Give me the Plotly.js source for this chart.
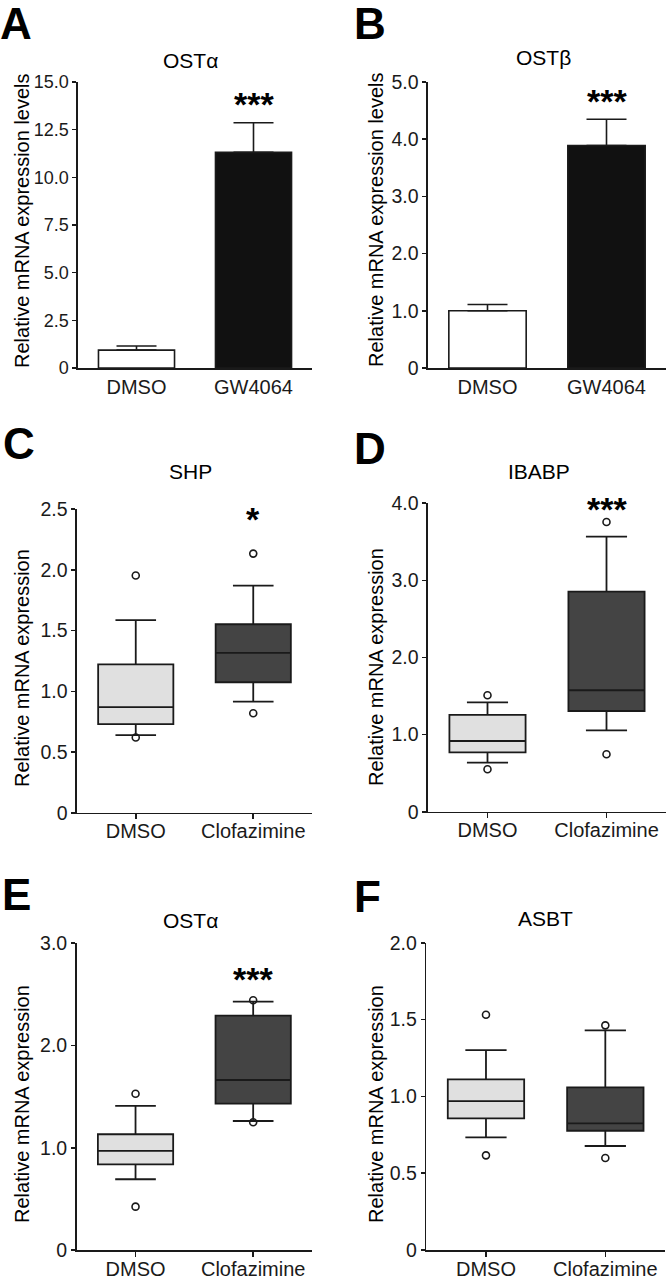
<!DOCTYPE html>
<html>
<head>
<meta charset="utf-8">
<script src="https://cdn.plot.ly/plotly-3.0.1.min.js"></script>
<style>html,body{margin:0;padding:0;background:#fff}#chart{width:666px;height:1283px}</style>
</head>
<body>
<div id="chart"></div>
<script>
// ---------- DATA ----------
const barCats = ['DMSO', 'GW4064'];
const boxCats = ['DMSO', 'Clofazimine'];

// Panel A: OSTα (bars, mean + SEM)
const ostaMean = [0.94, 11.31];
const ostaErr  = [0.21, 1.55];
const ostaTicks = [0, 2.5, 5, 7.5, 10, 12.5, 15];
const ostaTickText = ['0', '2.5', '5.0', '7.5', '10.0', '12.5', '15.0'];

// Panel B: OSTβ
const ostbMean = [1.00, 3.89];
const ostbErr  = [0.11, 0.46];
const ostbTicks = [0, 1, 2, 3, 4, 5];
const ostbTickText = ['0', '1.0', '2.0', '3.0', '4.0', '5.0'];

// Panel C: SHP (box stats per group: DMSO, Clofazimine)
const shpQ1  = [0.73, 1.075];
const shpMed = [0.87, 1.317];
const shpQ3  = [1.223, 1.553];
const shpLo  = [0.64, 0.915];
const shpHi  = [1.586, 1.871];
const shpOutDMSO = [1.954, 0.62];
const shpOutClof = [2.135, 0.82];
const shpTicks = [0, 0.5, 1, 1.5, 2, 2.5];
const shpTickText = ['0', '0.5', '1.0', '1.5', '2.0', '2.5'];

// Panel D: IBABP
const ibabpQ1  = [0.77, 1.306];
const ibabpMed = [0.917, 1.575];
const ibabpQ3  = [1.255, 2.854];
const ibabpLo  = [0.636, 1.056];
const ibabpHi  = [1.419, 3.568];
const ibabpOutDMSO = [1.51, 0.55];
const ibabpOutClof = [3.758, 0.745];
const ibabpTicks = [0, 1, 2, 3, 4];
const ibabpTickText = ['0', '1.0', '2.0', '3.0', '4.0'];

// Panel E: OSTα (Clofazimine)
const osta2Q1  = [0.838, 1.432];
const osta2Med = [0.969, 1.663];
const osta2Q3  = [1.132, 2.293];
const osta2Lo  = [0.692, 1.262];
const osta2Hi  = [1.409, 2.43];
const osta2OutDMSO = [1.529, 0.424];
const osta2OutClof = [2.443, 1.249];
const osta2Ticks = [0, 1, 2, 3];
const osta2TickText = ['0', '1.0', '2.0', '3.0'];

// Panel F: ASBT
const asbtQ1  = [0.857, 0.776];
const asbtMed = [0.969, 0.824];
const asbtQ3  = [1.111, 1.059];
const asbtLo  = [0.733, 0.677];
const asbtHi  = [1.301, 1.43];
const asbtOutDMSO = [1.531, 0.616];
const asbtOutClof = [1.462, 0.599];
const asbtTicks = [0, 0.5, 1, 1.5, 2];
const asbtTickText = ['0', '0.5', '1.0', '1.5', '2.0'];

// ---------- STYLE / LAYOUT ----------
const W = 666, H = 1283;
const FONT = 'Liberation Sans, Arial, Helvetica, sans-serif';
const INK = '#1a1a1a';
const px = v => v / W;
const py = v => 1 - v / H;

const traces = [];
const layout = {
  width: W, height: H,
  margin: {l: 0, r: 0, t: 0, b: 0},
  paper_bgcolor: '#fff', plot_bgcolor: 'rgba(0,0,0,0)',
  showlegend: false,
  font: {family: FONT, color: INK},
  annotations: []
};

function axes(n, xd, yd, range, tv, tt, xticks, tickSize) {
  const xs = n === 1 ? '' : String(n);
  layout['xaxis' + xs] = {
    domain: [px(xd[0]), px(xd[1])], anchor: 'y' + xs,
    type: 'category', range: [-0.5, 1.5],
    showline: true, linecolor: INK, linewidth: 1.6,
    showgrid: false, zeroline: false,
    ticks: xticks ? 'outside' : '', ticklen: 5, tickwidth: 1.6, tickcolor: INK,
    ticklabelstandoff: xticks ? -5 : 0,
    tickfont: {family: FONT, size: 20, color: INK}, fixedrange: true
  };
  layout['yaxis' + xs] = {
    domain: [py(yd[1]), py(yd[0])], anchor: 'x' + xs,
    range: range, showline: true, linecolor: INK, linewidth: 1.6,
    showgrid: false, zeroline: false,
    ticks: 'outside', ticklen: 4, tickwidth: 1.6, tickcolor: INK,
    tickvals: tv, ticktext: tt,
    tickfont: {family: FONT, size: tickSize, color: INK}, fixedrange: true
  };
}

function bars(n, cats, mean, err) {
  const xs = n === 1 ? '' : String(n);
  traces.push({
    type: 'bar', x: cats, y: mean, xaxis: 'x' + xs, yaxis: 'y' + xs,
    width: 0.65,
    marker: {color: ['#ffffff', '#111111'], line: {color: INK, width: 1.6}},
    error_y: {type: 'data', symmetric: false, array: err, arrayminus: [0, 0],
              color: INK, thickness: 1.6, width: 20},
    hoverinfo: 'skip'
  });
}

function boxes(n, q1, med, q3, lo, hi, outD, outC) {
  const xs = n === 1 ? '' : String(n);
  const fills = ['#e0e0e0', '#444444'];
  for (let i = 0; i < 2; i++) {
    traces.push({
      type: 'box', x: [boxCats[i]], q1: [q1[i]], median: [med[i]], q3: [q3[i]],
      lowerfence: [lo[i]], upperfence: [hi[i]],
      xaxis: 'x' + xs, yaxis: 'y' + xs,
      width: 0.64, whiskerwidth: 0.54,
      fillcolor: fills[i], line: {color: INK, width: 1.8},
      boxpoints: false, hoverinfo: 'skip'
    });
  }
  const outs = [outD, outC];
  for (let i = 0; i < 2; i++) {
    traces.push({
      type: 'scatter', mode: 'markers',
      x: outs[i].map(() => boxCats[i]), y: outs[i],
      xaxis: 'x' + xs, yaxis: 'y' + xs,
      marker: {symbol: 'circle-open', size: 7, color: INK, line: {width: 1.6, color: INK}},
      hoverinfo: 'skip', cliponaxis: false
    });
  }
}

function ann(text, x, y, size, opts) {
  layout.annotations.push(Object.assign({
    text: text, x: px(x), y: py(y), xref: 'paper', yref: 'paper',
    xanchor: 'center', yanchor: 'middle', showarrow: false,
    font: {family: FONT, size: size, color: '#000'}
  }, opts || {}));
}

function stars(n, text, cat, yval) {
  const xs = n === 1 ? '' : String(n);
  layout.annotations.push({
    text: '<b>' + text + '</b>', x: cat, y: yval, xref: 'x' + xs, yref: 'y' + xs,
    xanchor: 'center', yanchor: 'middle', showarrow: false, yshift: -4,
    font: {family: FONT, size: 34, color: '#000'}
  });
}

// Panel A
axes(1, [78, 312], [82, 368], [0, 15], ostaTicks, ostaTickText, false, 18);
bars(1, barCats, ostaMean, ostaErr);
stars(1, '***', 'GW4064', 14.05);
// Panel B
axes(2, [428, 666], [82, 368], [0, 5], ostbTicks, ostbTickText, false, 19.5);
bars(2, barCats, ostbMean, ostbErr);
stars(2, '***', 'GW4064', 4.74);
// Panel C
axes(3, [77, 312], [509.3, 812.7], [0, 2.5], shpTicks, shpTickText, true, 19.5);
boxes(3, shpQ1, shpMed, shpQ3, shpLo, shpHi, shpOutDMSO, shpOutClof);
stars(3, '*', 'Clofazimine', 2.45);
// Panel D
axes(4, [428, 666], [503.3, 811.7], [0, 4], ibabpTicks, ibabpTickText, true, 19.5);
boxes(4, ibabpQ1, ibabpMed, ibabpQ3, ibabpLo, ibabpHi, ibabpOutDMSO, ibabpOutClof);
stars(4, '***', 'Clofazimine', 3.98);
// Panel E
axes(5, [76.7, 312], [943.3, 1250], [0, 3], osta2Ticks, osta2TickText, true, 19.5);
boxes(5, osta2Q1, osta2Med, osta2Q3, osta2Lo, osta2Hi, osta2OutDMSO, osta2OutClof);
stars(5, '***', 'Clofazimine', 2.69);
// Panel F
axes(6, [426.3, 665], [942.7, 1250], [0, 2], asbtTicks, asbtTickText, true, 19.5);
boxes(6, asbtQ1, asbtMed, asbtQ3, asbtLo, asbtHi, asbtOutDMSO, asbtOutClof);

layout.boxmode = 'overlay';
layout.bargap = 0;

// Panel letters
ann('<b>A</b>', 16, 24, 44);
ann('<b>B</b>', 370, 24, 44);
ann('<b>C</b>', 19, 443, 44);
ann('<b>D</b>', 370, 448, 44);
ann('<b>E</b>', 16.5, 895, 44);
ann('<b>F</b>', 367, 896, 44);

// Panel titles
ann('OSTα', 190.7, 60, 21);
ann('OSTβ', 543, 58, 21);
ann('SHP', 190, 472, 21);
ann('IBABP', 539, 472, 21);
ann('OSTα', 190, 920, 21);
ann('ASBT', 545, 918, 21);

// Y-axis titles
const rot = {textangle: -90};
ann('Relative mRNA expression levels', 22, 221, 20, rot);
ann('Relative mRNA expression levels', 376, 220, 20, rot);
ann('Relative mRNA expression', 22, 668, 20, rot);
ann('Relative mRNA expression', 376, 667, 20, rot);
ann('Relative mRNA expression', 22, 1104, 20, rot);
ann('Relative mRNA expression', 376, 1104, 20, rot);

Plotly.newPlot('chart', traces, layout, {staticPlot: true, displayModeBar: false});
</script>
</body>
</html>
